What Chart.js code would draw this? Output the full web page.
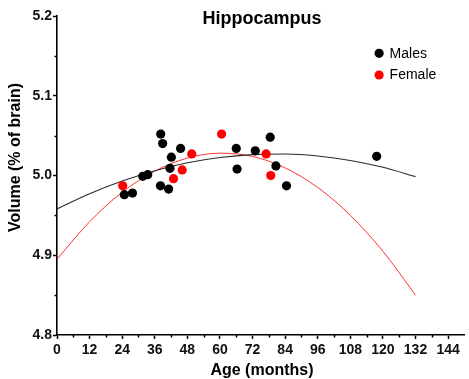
<!DOCTYPE html>
<html>
<head>
<meta charset="utf-8">
<script src="https://cdn.jsdelivr.net/npm/chart.js@4.4.1/dist/chart.umd.min.js"></script>
<style>
  html, body { margin: 0; padding: 0; background: #fff; }
  canvas { display: block; }
</style>
</head>
<body>
<canvas id="chart" width="469" height="379"></canvas>
<script>
// Text
const chartTitle = 'Hippocampus';
const xAxisTitle = 'Age (months)';
const yAxisTitle = 'Volume (% of brain)';
const seriesNames = ['Males', 'Female'];

// Individual animals: age (months) and hippocampal volume (% of brain)
const malesAge    = [24.8, 27.8, 31.6, 33.4, 38.1, 38.2, 38.9, 41.1, 41.6, 42.1, 45.5, 66.0, 66.3, 73.0, 78.5, 80.6, 84.5, 117.7];
const malesVolume = [4.976, 4.978, 4.999, 5.001, 4.987, 5.052, 5.040, 4.983, 5.009, 5.023, 5.034, 5.034, 5.008, 5.031, 5.048, 5.012, 4.987, 5.024];
const femaleAge    = [24.2, 42.9, 46.1, 49.6, 60.6, 77.0, 78.7];
const femaleVolume = [4.987, 4.996, 5.007, 5.027, 5.052, 5.027, 5.000];

// Quadratic fit curves, sampled every 12 months
const fitAge    = [0, 12, 24, 36, 48, 60, 72, 84, 96, 108, 120, 132];
const malesFit  = [4.958, 4.977, 4.993, 5.006, 5.016, 5.0226, 5.0262, 5.0269, 5.0244, 5.0189, 5.0103, 4.9986];
const femaleFit = [4.895, 4.942, 4.979, 5.0054, 5.0218, 5.028, 5.0239, 5.0095, 4.985, 4.950, 4.905, 4.850];

// Axis ticks
const xMinorTicks = [6, 18, 30, 42, 54, 66, 78, 90, 102, 114, 126, 138];
const yMinorTicks = [4.85, 4.95, 5.05, 5.15];

const seriesColors = ['#000000', '#ff0000'];
const fitColors = ['#2b2b2b', '#ff3030'];

const FONT = '"Liberation Sans", Arial, Helvetica, sans-serif';

const toXY = (xs, ys) => xs.map((x, i) => ({ x: x, y: ys[i] }));

// Minor tick marks, axis titles, chart title and an inset legend
const decorations = {
  id: 'decorations',
  afterDraw(chart) {
    const { ctx, chartArea, scales } = chart;
    const xs = scales.x, ys = scales.y;
    ctx.save();
    ctx.strokeStyle = '#000';
    ctx.lineWidth = 1.5;
    ctx.beginPath();
    xMinorTicks.forEach(v => {
      const px = Math.round(xs.getPixelForValue(v)) + 0.5;
      ctx.moveTo(px, chartArea.bottom);
      ctx.lineTo(px, chartArea.bottom + 2.5);
    });
    yMinorTicks.forEach(v => {
      const py = Math.round(ys.getPixelForValue(v)) + 0.5;
      ctx.moveTo(chartArea.left, py);
      ctx.lineTo(chartArea.left - 2.5, py);
    });
    ctx.stroke();

    ctx.fillStyle = '#000';
    ctx.textAlign = 'center';
    ctx.textBaseline = 'middle';
    ctx.font = 'bold 18px ' + FONT;
    ctx.fillText(chartTitle, 262, 19.5);

    ctx.font = 'bold 16px ' + FONT;
    ctx.fillText(xAxisTitle, 262, 371);

    ctx.save();
    ctx.translate(16, 157.5);
    ctx.rotate(-Math.PI / 2);
    ctx.fillText(yAxisTitle, 0, 0);
    ctx.restore();

    // legend
    ctx.font = '14px ' + FONT;
    ctx.textAlign = 'left';
    const lx = chartArea.right - 85.3;
    const rows = [chartArea.top + 37.3, chartArea.top + 59];
    seriesNames.forEach((name, i) => {
      ctx.fillStyle = seriesColors[i];
      ctx.beginPath();
      ctx.arc(lx, rows[i], 4.6, 0, Math.PI * 2);
      ctx.fill();
      ctx.fillStyle = '#000';
      ctx.fillText(name, lx + 10.5, rows[i] + 0.5);
    });
    ctx.restore();
  }
};

new Chart(document.getElementById('chart'), {
  type: 'scatter',
  data: {
    datasets: [
      {
        label: seriesNames[0],
        data: toXY(malesAge, malesVolume),
        backgroundColor: seriesColors[0],
        borderColor: seriesColors[0],
        borderWidth: 0,
        pointRadius: 4.6,
        order: 0
      },
      {
        label: seriesNames[1],
        data: toXY(femaleAge, femaleVolume),
        backgroundColor: seriesColors[1],
        borderColor: seriesColors[1],
        borderWidth: 0,
        pointRadius: 4.6,
        order: 0
      },
      {
        label: seriesNames[0] + ' fit',
        data: toXY(fitAge, malesFit),
        showLine: true,
        borderColor: fitColors[0],
        borderWidth: 1.1,
        pointRadius: 0,
        cubicInterpolationMode: 'monotone',
        order: 1
      },
      {
        label: seriesNames[1] + ' fit',
        data: toXY(fitAge, femaleFit),
        showLine: true,
        borderColor: fitColors[1],
        borderWidth: 1,
        pointRadius: 0,
        cubicInterpolationMode: 'monotone',
        order: 1
      }
    ]
  },
  options: {
    responsive: false,
    animation: false,
    layout: { padding: { top: 16, right: 1, left: 0, bottom: 0 } },
    plugins: {
      legend: { display: false },
      tooltip: { enabled: false },
      title: { display: false }
    },
    scales: {
      x: {
        type: 'linear',
        min: 0,
        max: 150,
        afterFit(scale) { scale.height = 44; },
        border: { display: true, color: '#000', width: 1.6 },
        grid: {
          display: true,
          drawOnChartArea: false,
          drawTicks: true,
          tickLength: 4,
          tickColor: '#000',
          tickWidth: 1.5
        },
        ticks: {
          stepSize: 12,
          includeBounds: false,
          autoSkip: false,
          maxRotation: 0,
          padding: 3,
          color: '#111',
          font: { family: FONT, size: 14, weight: 'bold' }
        }
      },
      y: {
        type: 'linear',
        min: 4.8,
        max: 5.2,
        afterFit(scale) { scale.width = 57; },
        border: { display: true, color: '#000', width: 1.6 },
        grid: {
          display: true,
          drawOnChartArea: false,
          drawTicks: true,
          tickLength: 4,
          tickColor: '#000',
          tickWidth: 1.5
        },
        ticks: {
          stepSize: 0.1,
          padding: 1,
          color: '#111',
          font: { family: FONT, size: 14, weight: 'bold' },
          callback: v => Number(v).toFixed(1)
        }
      }
    }
  },
  plugins: [decorations]
});
</script>
</body>
</html>
